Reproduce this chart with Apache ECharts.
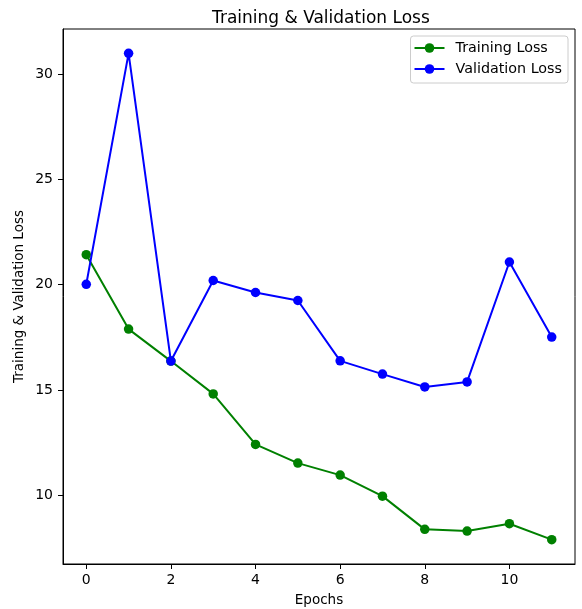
<!DOCTYPE html>
<html>
<head>
<meta charset="utf-8">
<title>Training & Validation Loss</title>
<script src="https://cdn.jsdelivr.net/npm/echarts@6/dist/echarts.min.js"></script>
<style>
  html, body { margin: 0; padding: 0; background: #fff; }
  #chart { width: 582px; height: 609px; }
</style>
</head>
<body>
<div id="chart"></div>
<script>
// Loss per epoch
const epochs = [0, 1, 2, 3, 4, 5, 6, 7, 8, 9, 10, 11];
const trainingLoss = [21.43, 17.89, 16.37, 14.81, 12.41, 11.52, 10.95, 9.95, 8.37, 8.29, 8.64, 7.88];
const validationLoss = [20.02, 31.0, 16.37, 20.20, 19.63, 19.25, 16.38, 15.75, 15.14, 15.38, 21.08, 17.51];

// Tick labels
const xTicks = [0, 2, 4, 6, 8, 10];
const yTicks = [10, 15, 20, 25, 30];

const FONT = 'DejaVu Sans';
const FS = 14;

// 5% padding around the data range on both axes
function padded(values, frac) {
  const lo = Math.min(...values), hi = Math.max(...values);
  const pad = (hi - lo) * frac;
  return [lo - pad, hi + pad];
}
const [xMin, xMax] = padded(epochs, 0.05);
const [yMin, yMax] = padded(trainingLoss.concat(validationLoss), 0.05);

const chart = echarts.init(document.getElementById('chart'), null, { renderer: 'canvas' });

const axisCommon = {
  type: 'value',
  axisLine: { show: true, onZero: false, lineStyle: { color: '#000', width: 1 } },
  axisTick: { show: true, length: 5, inside: false, lineStyle: { color: '#000', width: 1 } },
  splitLine: { show: false },
  nameMoveOverlap: false,
  nameTextStyle: { color: '#000', fontFamily: FONT, fontSize: 13.5 },
  axisLabel: { color: '#000', fontFamily: FONT, fontSize: FS }
};

function pairs(ys) { return epochs.map((x, i) => [x, ys[i]]); }

chart.setOption({
  animation: false,
  backgroundColor: '#fff',
  title: {
    text: 'Training & Validation Loss',
    left: 207,
    top: 5,
    textStyle: { fontFamily: FONT, fontSize: 17, fontWeight: 'normal', color: '#000' }
  },
  grid: {
    left: 63, right: 7, top: 29, bottom: 45,
    outerBoundsMode: 'none',
    containLabel: false,
    show: true, borderColor: '#000', borderWidth: 1, backgroundColor: 'transparent'
  },
  legend: {
    orient: 'vertical',
    right: 14,
    top: 36,
    padding: [5, 6, 7, 3],
    itemGap: 7,
    itemWidth: 30,
    itemHeight: 12,
    backgroundColor: '#fff',
    borderColor: '#cccccc',
    borderWidth: 1,
    borderRadius: 3,
    textStyle: { fontFamily: FONT, fontSize: 14.3, color: '#000', padding: [0, 0, 0, 6] },
    data: ['Training Loss', 'Validation Loss']
  },
  xAxis: Object.assign({}, axisCommon, {
    min: xMin, max: xMax,
    name: 'Epochs', nameLocation: 'middle', nameGap: 29,
    axisLabel: Object.assign({}, axisCommon.axisLabel, { margin: 9, customValues: xTicks }),
    axisTick: Object.assign({}, axisCommon.axisTick, { customValues: xTicks })
  }),
  yAxis: Object.assign({}, axisCommon, {
    min: yMin, max: yMax,
    name: 'Training & Validation Loss', nameLocation: 'middle', nameGap: 37,
    axisLabel: Object.assign({}, axisCommon.axisLabel, { margin: 10, customValues: yTicks }),
    axisTick: Object.assign({}, axisCommon.axisTick, { customValues: yTicks })
  }),
  series: [
    {
      name: 'Training Loss',
      type: 'line',
      data: pairs(trainingLoss),
      symbol: 'circle', symbolSize: 9.5, showAllSymbol: true,
      lineStyle: { color: '#008000', width: 2 },
      itemStyle: { color: '#008000' },
      z: 2
    },
    {
      name: 'Validation Loss',
      type: 'line',
      data: pairs(validationLoss),
      symbol: 'circle', symbolSize: 9.5, showAllSymbol: true,
      lineStyle: { color: '#0000ff', width: 2 },
      itemStyle: { color: '#0000ff' },
      z: 3
    }
  ]
});
</script>
</body>
</html>
